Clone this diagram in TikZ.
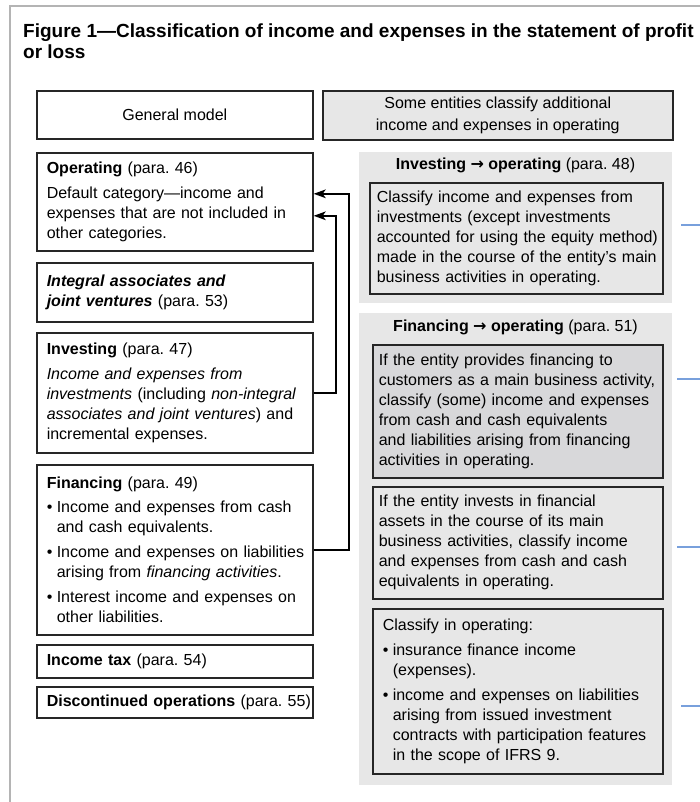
\documentclass[tikz,border=0pt]{standalone}
\usepackage{fontspec}
\setmainfont{Liberation Sans}
\newfontfamily\arrowfont{DejaVu Sans}
\usetikzlibrary{arrows.meta, positioning}
\usepackage{xcolor}
\definecolor{panelgray}{RGB}{231,231,231}
\definecolor{boxgray}{RGB}{216,216,218}
\definecolor{framegray}{RGB}{180,180,180}
\definecolor{edgeblue}{RGB}{120,160,220}
\newcommand{\bodyfont}{\fontsize{16}{20}\selectfont}
\newcommand{\bul}{\makebox[10pt][l]{\textbullet}}
\newcommand{\ind}{\hspace*{10pt}}
\newcommand{\toop}{{\arrowfont →}}
\frenchspacing

\begin{document}
\begin{tikzpicture}[x=1pt, y=-1pt,
  tbox/.style={draw=black!85, line width=1.6pt, anchor=north west,
               align=center, font=\bodyfont},
  lbox/.style={draw=black!85, line width=1.6pt, fill=white, anchor=north west,
               minimum width=276pt, text width=256pt, inner xsep=10pt,
               align=left, font=\bodyfont,
               execute at begin node={\rightskip=-14pt plus 1fil\relax}},
  rbox/.style={draw=black!85, line width=1.6pt, fill=panelgray, anchor=north west,
               minimum width=290pt, text width=278pt, inner xsep=6pt,
               align=left, font=\bodyfont,
               execute at begin node={\rightskip=-14pt plus 1fil\relax}},
  panel/.style={fill=panelgray, anchor=north west, inner sep=0pt,
                minimum width=313pt},
  hdr/.style={anchor=base, inner sep=0pt, font=\bodyfont},
  arr/.style={-{Stealth[length=12pt, width=8.5pt, inset=3pt]}, line width=2.2pt},
  edge/.style={draw=edgeblue, line width=1.2pt}
]
\useasboundingbox (0,0) rectangle (700,802);
\draw[framegray, line width=1.2pt] (10,802) -- (10,6) -- (700,6);

\node[anchor=north west, inner sep=0pt, align=left,
      font=\bfseries\fontsize{19}{21}\selectfont] (title) at (23,24)
  {Figure 1—Classification of income and expenses in the statement of profit\\or loss};

% left column: general model
\node[tbox, fill=white, minimum width=276pt, minimum height=48pt] (gen) at (36,90) {General model};
\node[lbox, minimum height=98pt] (op) at (36,152)
  {\textbf{Operating} (para. 46)\\[5pt]
   Default category—income and\\
   expenses that are not included in\\
   other categories.};
\node[lbox, minimum height=59pt] (integ) at (36,262)
  {\textbf{\textit{Integral associates and}}\\
   \textbf{\textit{joint ventures}} (para. 53)};
\node[lbox, minimum height=120pt] (inv) at (36,332)
  {\textbf{Investing} (para. 47)\\[5pt]
   \textit{Income and expenses from}\\
   \textit{investments} (including \textit{non-integral}\\
   \textit{associates and joint ventures}) and\\
   incremental expenses.};
\node[lbox, minimum height=170pt] (fin) at (36,464)
  {\textbf{Financing} (para. 49)\\[4pt]
   \bul Income and expenses from cash\\
   \ind and cash equivalents.\\[5pt]
   \bul Income and expenses on liabilities\\
   \ind arising from \textit{financing activities}.\\[5pt]
   \bul Interest income and expenses on\\
   \ind other liabilities.};
\node[lbox, minimum height=33pt] (tax) at (36,644) {\textbf{Income tax} (para. 54)};
\node[lbox, minimum height=31pt] (disc) at (36,686) {\textbf{Discontinued operations} (para. 55)};

% reclassification into operating
\draw[arr] (fin.east) -- ++(35,0) |- ([yshift=8pt]op.east);
\draw[arr] (inv.east) -- ++(22,0) |- ([yshift=-14pt]op.east);

% right column: additional classification
\node[tbox, fill=panelgray, minimum width=350pt, minimum height=49pt] (some) at (322,90)
  {Some entities classify additional\\[2pt] income and expenses in operating};

\node[panel, minimum height=151pt] (pan1) at (359,152) {};
\node[hdr] (h1) at (515.5,170) {\textbf{Investing \toop\ operating} (para. 48)};
\node[rbox, minimum width=293pt, text width=279pt, inner xsep=7pt, minimum height=111pt] (invop) at (369,182)
  {Classify income and expenses from\\
   investments (except investments\\
   accounted for using the equity method)\\
   made in the course of the entity's main\\
   business activities in operating.};

\node[panel, minimum height=472pt] (pan2) at (359,313) {};
\node[hdr] (h2) at (515.5,331) {\textbf{Financing \toop\ operating} (para. 51)};
\node[rbox, fill=boxgray, minimum height=133pt] (finA) at (372,344)
  {If the entity provides financing to\\
   customers as a main business activity,\\
   classify (some) income and expenses\\
   from cash and cash equivalents\\
   and liabilities arising from financing\\
   activities in operating.};
\node[rbox, minimum height=112pt] (finB) at (372,486)
  {If the entity invests in financial\\
   assets in the course of its main\\
   business activities, classify income\\
   and expenses from cash and cash\\
   equivalents in operating.};
\node[rbox, text width=270pt, inner xsep=10pt, minimum height=165pt] (finC) at (372,608)
  {Classify in operating:\\[5pt]
   \bul insurance finance income\\
   \ind (expenses).\\[5pt]
   \bul income and expenses on liabilities\\
   \ind arising from issued investment\\
   \ind contracts with participation features\\
   \ind in the scope of IFRS 9.};

% cut edge marks
\foreach \y/\x in {225/681, 379/677, 547/677, 706/681}
  \draw[edge] (\x,\y) -- (700,\y);
\end{tikzpicture}
\end{document}
